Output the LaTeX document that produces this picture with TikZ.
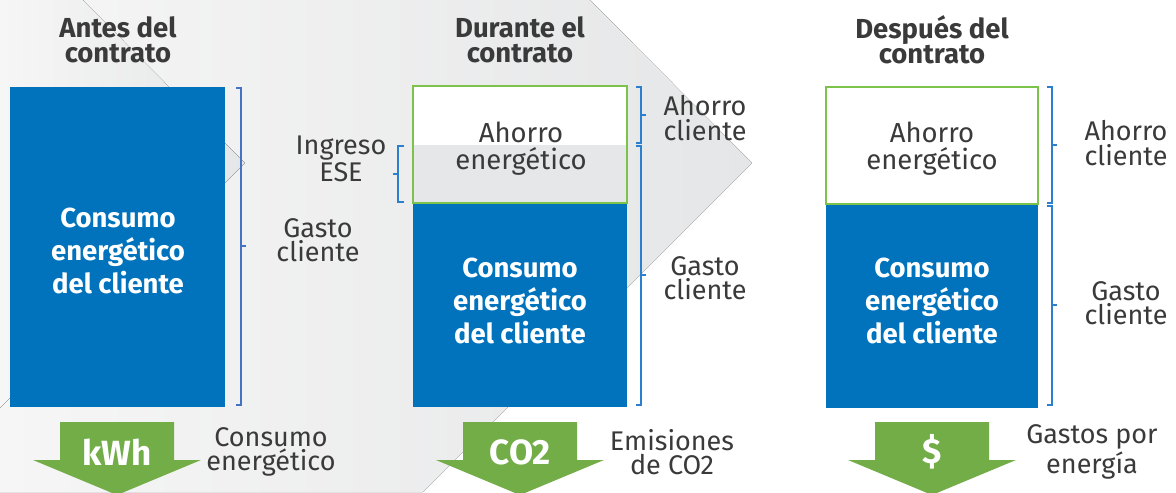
\documentclass[tikz,border=0pt]{standalone}
\usepackage{fontspec}
\setmainfont{Fira Sans}
\usetikzlibrary{positioning}
\definecolor{ink}{HTML}{3A3A3A}
\definecolor{eseblue}{HTML}{0073BC}
\definecolor{bracea}{HTML}{4472C4}
\definecolor{braceb}{HTML}{2A7FCF}
\definecolor{savegreen}{HTML}{7DC24B}
\definecolor{arrowgreen}{HTML}{72AD47}
\definecolor{chevgray}{HTML}{E5E6E7}
\definecolor{chevlight}{HTML}{F6F6F6}
\definecolor{fillgray}{HTML}{E6E7E8}

\begin{document}
\begin{tikzpicture}[
   x=0.5pt, y=-0.5pt,
   font=\fontsize{13.5pt}{12.25pt}\selectfont,
   title/.style={font=\fontsize{13.75pt}{12.25pt}\selectfont\bfseries, text=ink, align=center, inner sep=0pt},
   lbl/.style={text=ink, align=center, inner sep=0pt},
   bar/.style={fill=eseblue, inner sep=0pt},
   bartxt/.style={text=white, align=center, inner sep=0pt,
               font=\fontsize{13.75pt}{16.5pt}\selectfont\bfseries},
   save/.style={draw=savegreen, line width=1pt, fill=white, inner sep=0pt},
   savetxt/.style={text=ink, align=center, inner sep=0pt, font=\fontsize{13.75pt}{13.5pt}\selectfont},
   brk/.style={line width=1pt},
   down/.style={fill=arrowgreen},
   sym/.style={text=white, inner sep=0pt, font=\fontsize{17.5pt}{18pt}\selectfont\bfseries},
]
  \useasboundingbox (0,0) rectangle (1176,492);
  \fill[white] (0,0) rectangle (1176,492);
  % chevrons behind
  \fill[left color=chevlight, right color=chevgray]
        (0,0) -- (83,0) -- (245,163) -- (0,408) -- cycle;
  \fill[left color=chevlight, right color=chevgray]
        (83,0) -- (590,0) -- (752,163) -- (423,492) -- (0,492) -- (0,408) -- (245,163) -- cycle;

  % titles
  \node[title] (tantes)   at (118,40) {Antes del\\contrato};
  \node[title] (tdurante) at (520,40) {Durante el\\contrato};
  \node[title] (tdespues) at (932,40) {Después del\\contrato};

  % bars
  \node[bar, minimum width=107.5pt, minimum height=160pt] (antes) at (117.5,247) {};
  \node[bar, minimum width=107pt, minimum height=102pt] (durante) at (520,305) {};
  \node[bar, minimum width=106pt, minimum height=102pt] (despues) at (932,305.5) {};
  \node[bartxt] (antestxt)   at (118,251)   {Consumo\\energético\\del cliente};
  \node[bartxt] (durantetxt) at (520,300.5) {Consumo\\energético\\del cliente};
  \node[bartxt] (despuestxt) at (932,300.5) {Consumo\\energético\\del cliente};

  % savings on top
  \node[save, minimum width=107pt, minimum height=58.5pt,
        path picture={\fill[fillgray] (path picture bounding box.west) rectangle (path picture bounding box.south east);}]
        (ahorrod) at (520,144.5) {};
  \node[save, minimum width=106pt, minimum height=58.5pt] (ahorrop) at (932,145.5) {};
  \node[savetxt] (ahorrodtxt) at (521,149) {Ahorro\\energético};
  \node[savetxt] (ahorroptxt) at (932,149) {Ahorro\\energético};

  % brackets
  \draw[brk, bracea] (236,88) -- (241,88) -- (241,405) -- (236,405) (241,246) -- (246,246);
  \draw[brk, braceb] (404,146) -- (398,146) -- (398,202) -- (404,202) (398,174) -- (393,174);
  \draw[brk, braceb] (636,87) -- (641,87) -- (641,143) -- (636,143) (641,115) -- (646,115);
  \draw[brk, braceb] (636,146) -- (641,146) -- (641,405) -- (636,405) (641,275) -- (646,275);
  \draw[brk, braceb] (1047,87) -- (1052,87) -- (1052,203) -- (1047,203) (1052,145) -- (1057,145);
  \draw[brk, braceb] (1047,206) -- (1052,206) -- (1052,405) -- (1047,405) (1052,305) -- (1057,305);

  % labels
  \node[lbl] (gasto1)   at (318,240)  {Gasto\\cliente};
  \node[lbl] (ingreso)  at (341,159)  {Ingreso\\ESE};
  \node[lbl] (ahorro2)  at (705,118)  {Ahorro\\cliente};
  \node[lbl] (gasto2)   at (705,278)  {Gasto\\cliente};
  \node[lbl] (ahorro3)  at (1126,143) {Ahorro\\cliente};
  \node[lbl] (gasto3)   at (1126,303) {Gasto\\cliente};
  \node[lbl] (consumo)  at (271,452)  {Consumo\\energético};
  \node[lbl] (emision)  at (672,452)  {Emisiones\\de CO2};
  \node[lbl] (gastoen)  at (1092,452) {Gastos por\\energía};

  % green arrows
  \foreach \cx/\txt/\nm in {117/kWh/kwh, 520/CO2/co, 932/\$/usd}{
    \fill[down] (\cx-57,422) -- (\cx+57,422) -- (\cx+57,460) -- (\cx+84,460)
          -- (\cx,495) -- (\cx-84,460) -- (\cx-57,460) -- cycle;
    \node[sym] (\nm) at (\cx,452) {\txt};
  }
\end{tikzpicture}
\end{document}
